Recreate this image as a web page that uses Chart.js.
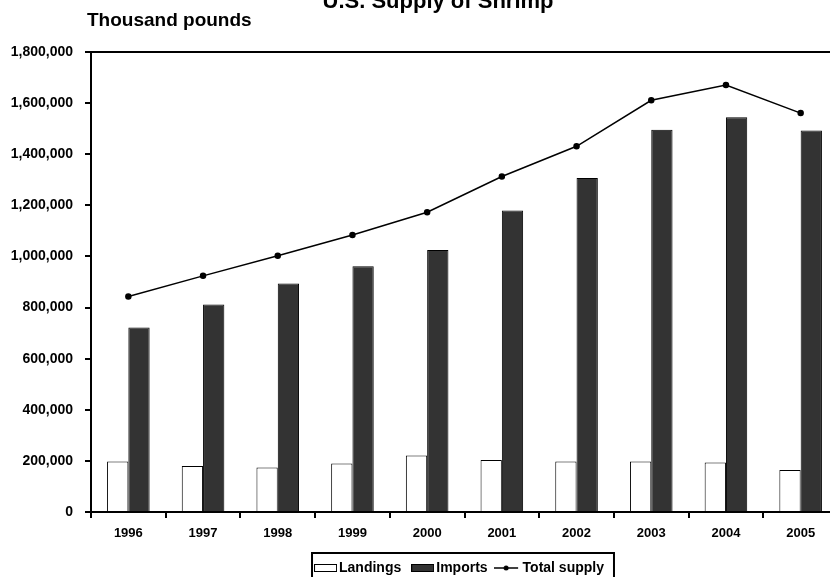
<!DOCTYPE html>
<html>
<head>
<meta charset="utf-8">
<title>U.S. Supply of Shrimp</title>
<script src="https://cdn.jsdelivr.net/npm/chart.js@4.4.1/dist/chart.umd.min.js"></script>
<style>
    body { margin: 0; background: #fff; overflow: hidden; }
    #wrap { width: 830px; height: 577px; overflow: hidden; position: relative; }
    canvas { position: absolute; left: 0; top: 0; }
</style>
</head>
<body>
<div id="wrap"><canvas id="shrimp" width="842" height="585"></canvas></div>
<script>
// DATA (thousand pounds)
var years = ['1996', '1997', '1998', '1999', '2000', '2001', '2002', '2003', '2004', '2005'];
var landings = [198000, 180000, 174000, 190000, 221000, 203000, 198000, 198000, 194000, 164000];
var imports = [722000, 812000, 894000, 962000, 1025000, 1180000, 1307000, 1496000, 1545000, 1493000];
var totalSupply = [843000, 924000, 1003000, 1084000, 1173000, 1313000, 1431000, 1611000, 1671000, 1561000];
var yTicks = [0, 200000, 400000, 600000, 800000, 1000000, 1200000, 1400000, 1600000, 1800000];
var seriesNames = ['Landings', 'Imports', 'Total supply'];
var chartTitle = 'U.S. Supply of Shrimp';
var unitLabel = 'Thousand pounds';

var FONT = '"Liberation Sans", Arial, sans-serif';

// LEGEND ICONS
function makeIcon(w, h, draw){
    var c = document.createElement('canvas');
    c.width = w;
    c.height = h;
    draw(c.getContext('2d'));
    return c;
}
var iconLandings = makeIcon(23, 8, function(g){
    g.fillStyle = '#fff';
    g.fillRect(0, 0, 23, 8);
    g.strokeStyle = '#000';
    g.lineWidth = 1;
    g.strokeRect(0.5, 0.5, 22, 7);
});
var iconImports = makeIcon(23, 8, function(g){
    g.fillStyle = '#333';
    g.fillRect(0, 0, 23, 8);
    g.strokeStyle = '#000';
    g.lineWidth = 1;
    g.strokeRect(0.5, 0.5, 22, 7);
});
// line icon: 24px of line, 6px empty on the right for the gap before the text
var iconTotal = makeIcon(30, 8, function(g){
    g.strokeStyle = '#000';
    g.lineWidth = 1.5;
    g.beginPath();
    g.moveTo(0, 4);
    g.lineTo(24, 4);
    g.stroke();
    g.fillStyle = '#000';
    g.beginPath();
    g.arc(12, 4, 2.5, 0, Math.PI * 2);
    g.fill();
});
var legendIcons = [iconLandings, iconImports, iconTotal];

// TITLE, UNIT LABEL AND LEGEND FRAME
var extraText = {
    id: 'extraText',
    afterLayout: function(chart){
        // nudge the legend a little to the left, like the original
        chart.legend.left -= 3;
        chart.legend.right -= 3;
    },
    afterDraw: function(chart){
        var ctx = chart.ctx;
        ctx.save();
        ctx.fillStyle = '#000';
        ctx.textBaseline = 'alphabetic';
        ctx.font = 'bold 22px ' + FONT;
        ctx.textAlign = 'center';
        ctx.fillText(chartTitle, 438, 8);
        ctx.font = 'bold 19px ' + FONT;
        ctx.textAlign = 'left';
        ctx.fillText(unitLabel, 87, 26);

        var boxes = chart.legend.legendHitBoxes;
        if(boxes && boxes.length){
            var first = boxes[0];
            var last = boxes[boxes.length - 1];
            var cy = first.top + first.height / 2;
            var left = first.left - 7;
            var right = last.left + last.width + 10;
            ctx.strokeStyle = '#000';
            ctx.lineWidth = 2;
            ctx.strokeRect(left, cy - 15, right - left, 40);
        }
        ctx.restore();
    }
};

// GRAPH
var ctx = document.getElementById('shrimp').getContext('2d');
new Chart(ctx, {
    type: 'bar',
    data: {
        labels: years,
        datasets: [{
            label: seriesNames[0],
            data: landings,
            backgroundColor: '#ffffff',
            borderColor: '#000000',
            borderWidth: 1,
            order: 1
        }, {
            label: seriesNames[1],
            data: imports,
            backgroundColor: '#333333',
            borderColor: '#000000',
            borderWidth: 1,
            order: 1
        }, {
            type: 'line',
            label: seriesNames[2],
            data: totalSupply,
            borderColor: '#000000',
            backgroundColor: '#000000',
            borderWidth: 1.5,
            pointRadius: 2.5,
            pointHoverRadius: 2.5,
            tension: 0,
            fill: false,
            order: 0
        }]
    },
    options: {
        responsive: false,
        animation: false,
        devicePixelRatio: 1,
        layout: { padding: { top: 52, left: 0, right: 0, bottom: 0 } },
        datasets: {
            bar: { categoryPercentage: 0.57, barPercentage: 1 }
        },
        scales: {
            x: {
                grid: {
                    offset: true,
                    drawOnChartArea: false,
                    tickLength: 6,
                    tickColor: '#000',
                    lineWidth: 2
                },
                border: { color: '#000', width: 2 },
                ticks: {
                    color: '#000',
                    padding: 8,
                    maxRotation: 0,
                    font: { family: FONT, size: 13, weight: 'bold' }
                },
                afterFit: function(scale){ scale.height = 34; }
            },
            y: {
                min: 0,
                max: 1800000,
                afterBuildTicks: function(scale){
                    scale.ticks = yTicks.map(function(v){ return { value: v }; });
                },
                grid: {
                    color: function(c){ return c.tick && c.tick.value === 1800000 ? '#000' : 'rgba(0,0,0,0)'; },
                    tickColor: '#000',
                    tickLength: 6,
                    lineWidth: 2
                },
                border: { color: '#000', width: 2 },
                ticks: {
                    color: '#000',
                    padding: 12,
                    font: { family: FONT, size: 14, weight: 'bold' },
                    callback: function(v){ return Number(v).toLocaleString('en-US'); }
                },
                afterFit: function(scale){ scale.width = 91; }
            }
        },
        plugins: {
            title: { display: false },
            tooltip: { enabled: false },
            legend: {
                position: 'bottom',
                fullSize: false,
                labels: {
                    usePointStyle: true,
                    pointStyleWidth: 13,
                    padding: 15,
                    color: '#000',
                    font: { family: FONT, size: 14, weight: 'bold' },
                    generateLabels: function(chart){
                        return seriesNames.map(function(name, i){
                            return {
                                text: name,
                                pointStyle: legendIcons[i],
                                fillStyle: '#000',
                                strokeStyle: '#000',
                                lineWidth: 0,
                                fontColor: '#000',
                                hidden: false,
                                datasetIndex: i
                            };
                        });
                    }
                }
            }
        }
    },
    plugins: [extraText]
});
// GRAPH
</script>
</body>
</html>
